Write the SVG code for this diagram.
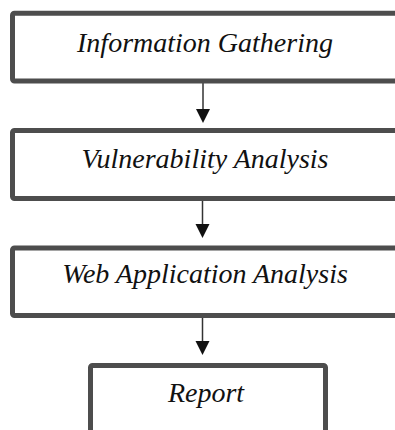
<svg xmlns="http://www.w3.org/2000/svg" width="395" height="430" viewBox="0 0 395 430">
<defs>
<style>
.box{fill:#ffffff;stroke:#4d4d4d;stroke-width:5}
.lbl{font-family:"Liberation Serif","Times New Roman",serif;font-style:italic;font-size:28px;fill:#111;text-anchor:middle}
.conn{stroke:#333;stroke-width:1.5;fill:none}
.head{fill:#111}
</style>
</defs>
<rect width="395" height="430" fill="#ffffff"/>
<g id="connectors">
<line class="conn" x1="203" y1="83" x2="203" y2="112"/>
<polygon class="head" points="196,109 210,109 203,123"/>
<line class="conn" x1="202.5" y1="201" x2="202.5" y2="227"/>
<polygon class="head" points="195.5,224 209.5,224 202.5,238"/>
<line class="conn" x1="202.5" y1="318" x2="202.5" y2="344"/>
<polygon class="head" points="195.5,341 209.5,341 202.5,355"/>
</g>
<g id="node-info">
<rect class="box" x="12.5" y="13.3" width="400" height="67.7" rx="2"/>
<text class="lbl" x="205" y="52">Information Gathering</text>
</g>
<g id="node-vuln">
<rect class="box" x="12.5" y="130.5" width="400" height="68" rx="2"/>
<text class="lbl" x="205" y="168">Vulnerability Analysis</text>
</g>
<g id="node-web">
<rect class="box" x="12.5" y="248" width="400" height="67.5" rx="2"/>
<text class="lbl" x="205" y="283">Web Application Analysis</text>
</g>
<g id="node-report">
<rect class="box" x="90.5" y="365.5" width="235" height="80" rx="2"/>
<text class="lbl" x="206" y="402">Report</text>
</g>
</svg>
